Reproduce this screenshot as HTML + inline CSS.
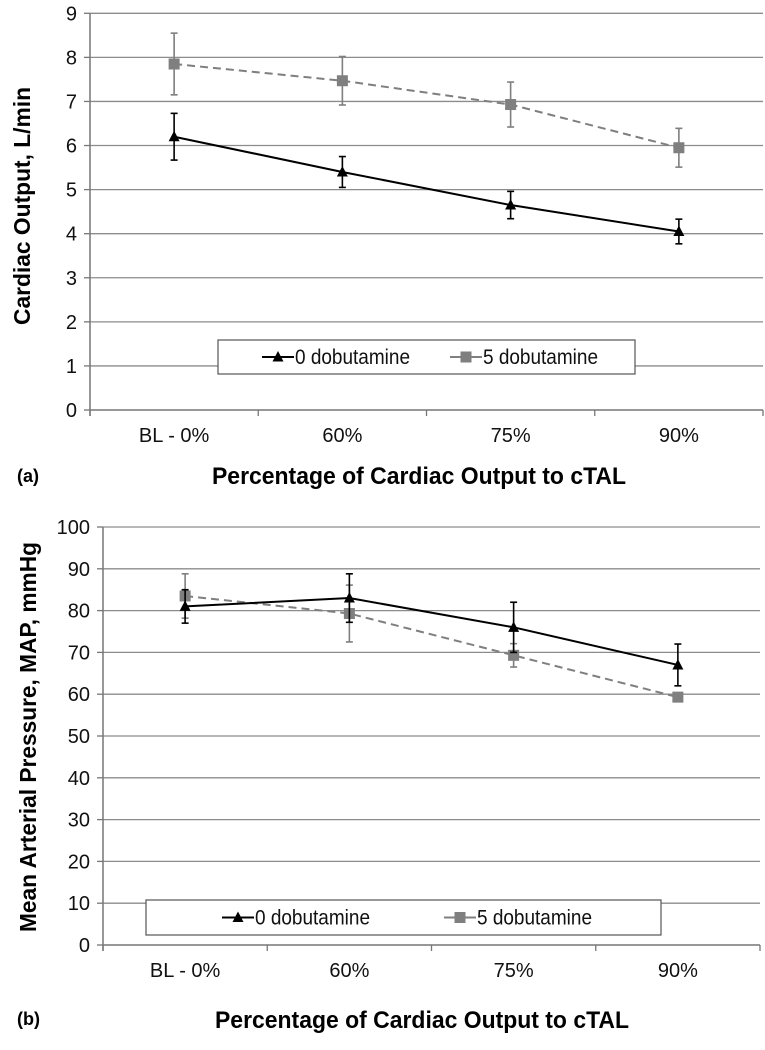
<!DOCTYPE html>
<html><head><meta charset="utf-8"><style>
html,body{margin:0;padding:0;background:#fff;}
svg{display:block;font-family:"Liberation Sans",Arial,sans-serif;}
</style></head><body>
<svg id="chart" width="765" height="1050" viewBox="0 0 765 1050" xmlns="http://www.w3.org/2000/svg"></svg>
<script>
const categories = ["BL - 0%", "60%", "75%", "90%"];
const coNoDob = [6.2, 5.4, 4.65, 4.05];
const coNoDobErr = [0.53, 0.35, 0.31, 0.28];
const coDob = [7.85, 7.47, 6.93, 5.95];
const coDobErr = [0.7, 0.55, 0.51, 0.44];
const coTicks = [0,1,2,3,4,5,6,7,8,9];
const mapNoDob = [81, 83, 76, 67];
const mapNoDobErr = [4, 5.8, 6, 5];
const mapDob = [83.5, 79.3, 69.3, 59.3];
const mapDobErr = [5.3, 6.8, 2.8, 0.8];
const mapTicks = [0,10,20,30,40,50,60,70,80,90,100];

const NS = "http://www.w3.org/2000/svg";
const svg = document.getElementById('chart');
function mk(tag, attrs, parent, text){
  const e = document.createElementNS(NS, tag);
  for (const k in attrs) e.setAttribute(k, attrs[k]);
  if (text !== undefined) e.textContent = text;
  (parent || svg).appendChild(e);
  return e;
}
function tri(g, x, y, fill){
  return mk('polygon',{points:`${x},${y-6} ${x-5.5},${y+4.5} ${x+5.5},${y+4.5}`, fill:fill}, g);
}
function sq(g, x, y, fill){
  return mk('rect',{x:x-5.5,y:y-5.5,width:11,height:11,fill:fill}, g);
}

function drawChart(cfg){
  const g = mk('g',{});
  
  
  const L = cfg.left, R = cfg.right, T = cfg.top, B = cfg.bottom;
  const ymax = cfg.ticks[cfg.ticks.length-1];
  const ys = v => B - (v / ymax) * (B - T);
  const bw = (R - L) / categories.length;
  const xs = i => L + bw * (i + 0.5);

  cfg.ticks.forEach(t => {
    const y = ys(t);
    if (t > 0) {
      const gl = mk('line',{x1:L,x2:R,y1:y,y2:y,stroke:'#8c8c8c','stroke-width':1.3}, g);
      
      
    }
    mk('line',{x1:L-6,x2:L,y1:y,y2:y,stroke:'#777','stroke-width':1.3}, g);
    const tl = mk('text',{x:L-13,y:y+7,'text-anchor':'end','font-size':20,fill:'#111'}, g, String(t));
    
    
  });
  const ya = mk('line',{x1:L,x2:L,y1:T,y2:B+6,stroke:'#777','stroke-width':1.5}, g);
  
  
  const xa = mk('line',{x1:L,x2:R,y1:B,y2:B,stroke:'#777','stroke-width':1.5}, g);
  
  
  for (let i = 0; i <= categories.length; i++) {
    mk('line',{x1:L+bw*i,x2:L+bw*i,y1:B,y2:B+6,stroke:'#777','stroke-width':1.3}, g);
  }
  categories.forEach((c,i) => {
    const t = mk('text',{x:xs(i),y:B+32,'text-anchor':'middle','font-size':20,fill:'#111'}, g, c);
    
    
  });

  function series(vals, errs, color, dash, marker, name){
    const sg = mk('g',{}, g);
    
    
    vals.forEach((v,i) => {
      const x = xs(i), y1 = ys(v + errs[i]), y2 = ys(v - errs[i]);
      mk('line',{x1:x,x2:x,y1:y1,y2:y2,stroke:color,'stroke-width':1.6}, sg);
      mk('line',{x1:x-3.5,x2:x+3.5,y1:y1,y2:y1,stroke:color,'stroke-width':1.6}, sg);
      mk('line',{x1:x-3.5,x2:x+3.5,y1:y2,y2:y2,stroke:color,'stroke-width':1.6}, sg);
    });
    const pts = vals.map((v,i) => `${xs(i)},${ys(v)}`).join(' ');
    const pl = mk('polyline',{points:pts,fill:'none',stroke:color,'stroke-width':2,'stroke-dasharray':dash}, sg);
    
    
    vals.forEach((v,i) => {
      const m = marker(sg, xs(i), ys(v), color);
      
      
    });
  }
  series(cfg.s2, cfg.e2, '#7f7f7f', '8,5', sq, '5-dobutamine-series');
  series(cfg.s1, cfg.e1, '#000', 'none', tri, '0-dobutamine-series');

  const lg = mk('g',{}, g);
  
  
  const lx = cfg.leg[0], ly = cfg.leg[1], lw = cfg.leg[2], lh = cfg.leg[3];
  mk('rect',{x:lx,y:ly,width:lw,height:lh,fill:'#fff',stroke:'#555','stroke-width':1.2}, lg);
  const cy = ly + lh/2;
  const e1 = mk('g',{}, lg);
  
  
  mk('line',{x1:cfg.legA,x2:cfg.legA+32,y1:cy,y2:cy,stroke:'#000','stroke-width':2}, e1);
  tri(e1, cfg.legA+16, cy, '#000');
  mk('text',{x:cfg.legA+33,y:cy+7,'font-size':21,fill:'#111',textLength:115,lengthAdjust:'spacingAndGlyphs'}, e1, '0 dobutamine');
  const e2 = mk('g',{}, lg);
  
  
  mk('line',{x1:cfg.legB,x2:cfg.legB+32,y1:cy,y2:cy,stroke:'#7f7f7f','stroke-width':2}, e2);
  sq(e2, cfg.legB+16, cy, '#7f7f7f');
  mk('text',{x:cfg.legB+33,y:cy+7,'font-size':21,fill:'#111',textLength:115,lengthAdjust:'spacingAndGlyphs'}, e2, '5 dobutamine');

  const xt = mk('text',{x:cfg.xTitle[0],y:cfg.xTitle[1],'font-size':24,'font-weight':'bold',fill:'#000',textLength:414,lengthAdjust:'spacingAndGlyphs'}, g, 'Percentage of Cardiac Output to cTAL');
  
  
  const yt = mk('text',{x:0,y:0,'text-anchor':'middle','font-size':23,'font-weight':'bold',fill:'#000',textLength:cfg.yTitle[3],lengthAdjust:'spacingAndGlyphs',transform:`translate(${cfg.yTitle[0]},${cfg.yTitle[1]}) rotate(-90)`}, g, cfg.yTitle[2]);
  
  
  const pl = mk('text',{x:17,y:cfg.panel[1],'font-size':18,'font-weight':'bold',fill:'#000'}, g, cfg.panel[0]);
  
  
}

drawChart({name:'cardiac-output-chart', left:90, right:763, top:13.3, bottom:410,
  ticks:coTicks, s1:coNoDob, e1:coNoDobErr, s2:coDob, e2:coDobErr,
  leg:[218,340,417,34], legA:262, legB:450,
  xTitle:[212,484], yTitle:[30,206,'Cardiac Output, L/min',238], panel:['(a)',482]});
drawChart({name:'mean-arterial-pressure-chart', left:103, right:760, top:527, bottom:945,
  ticks:mapTicks, s1:mapNoDob, e1:mapNoDobErr, s2:mapDob, e2:mapDobErr,
  leg:[146,900,515,35], legA:222, legB:444,
  xTitle:[215,1028], yTitle:[36,737,'Mean Arterial Pressure, MAP, mmHg',390], panel:['(b)',1025]});
</script>
</body></html>
